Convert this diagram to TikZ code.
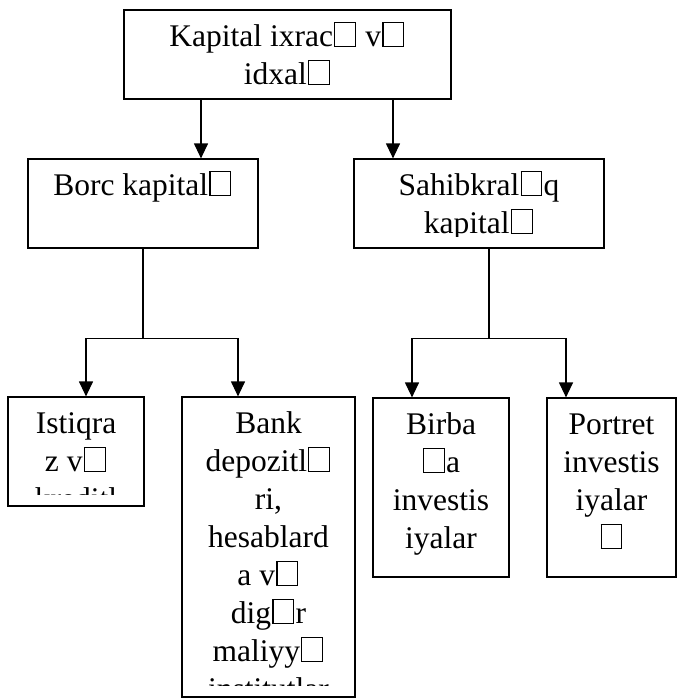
\documentclass[tikz,border=0pt]{standalone}
\usepackage{fontspec}
\setmainfont{Liberation Serif}
\usetikzlibrary{arrows.meta}
\newcommand{\nb}{\kern0.04em{\fboxsep=0pt\fboxrule=1.2pt\fbox{\rule{0pt}{0.74em}\rule{0.62em}{0pt}}}\kern0.04em}
\newcommand{\cliptext}[2]{%
  \begin{scope}
    \clip (#1.north west) rectangle ([yshift=12pt]#1.south east);
    \node[txt] (#1-text) at ([yshift=-10.5pt]#1.north) {\rule{0pt}{26pt}#2};
  \end{scope}}
\tikzset{
  box/.style={draw, line width=1.2pt, inner sep=0pt},
  txt/.style={anchor=north, align=center, inner sep=0pt, font=\fontsize{31.5}{38}\selectfont},
  link/.style={line width=1.2pt}
}
\begin{document}
\begin{tikzpicture}[line cap=butt,line join=miter,>={Triangle[width=14pt,length=15pt]},x=1pt,y=-1pt]
    \useasboundingbox (0,0) rectangle (678,698);
    \node[box, minimum width=327pt, minimum height=89pt] (kapital) at (287.5,54.5) {};
    \node[box, minimum width=230pt, minimum height=89pt] (borc) at (143,203.5) {};
    \node[box, minimum width=250pt, minimum height=89pt] (sahib) at (479,203.5) {};
    \node[box, minimum width=136pt, minimum height=109pt] (istiqraz) at (76,451.5) {};
    \node[box, minimum width=173pt, minimum height=300pt] (bank) at (268.5,547) {};
    \node[box, minimum width=136pt, minimum height=179pt] (birja) at (441,487.5) {};
    \node[box, minimum width=129pt, minimum height=179pt] (portfel) at (611.5,487.5) {};
    \cliptext{kapital}{Kapital ixrac\nb{} v\nb\\ idxal\nb}
    \cliptext{borc}{Borc kapital\nb}
    \cliptext{sahib}{Sahibkral\nb{}q\\ kapital\nb}
    \cliptext{istiqraz}{Istiqra\\ z v\nb\\ kreditl}
    \cliptext{bank}{Bank\\ depozitl\nb\\ ri,\\ hesablard\\ a v\nb\\ dig\nb{}r\\ maliyy\nb\\ institutlar}
    \cliptext{birja}{Birba\\ \nb{}a\\ investis\\ iyalar}
    \cliptext{portfel}{Portret\\ investis\\ iyalar\\ \nb}
    \draw[link,->] ([xshift=-86.5pt]kapital.south) -- ([xshift=58pt]borc.north);
    \draw[link,->] ([xshift=105.5pt]kapital.south) -- ([xshift=-86pt]sahib.north);
    \draw[link] (borc.south) -- ++(0,90) coordinate (borc-j);
    \draw[link,->] (borc-j) -| ([xshift=10pt]istiqraz.north);
    \draw[link,->] (borc-j) -| ([xshift=-30.5pt]bank.north);
    \draw[link] ([xshift=10pt]sahib.south) -- ++(0,90) coordinate (sahib-j);
    \draw[link,->] (sahib-j) -| ([xshift=-29pt]birja.north);
    \draw[link,->] (sahib-j) -| ([xshift=-45.5pt]portfel.north);
\end{tikzpicture}
\end{document}
